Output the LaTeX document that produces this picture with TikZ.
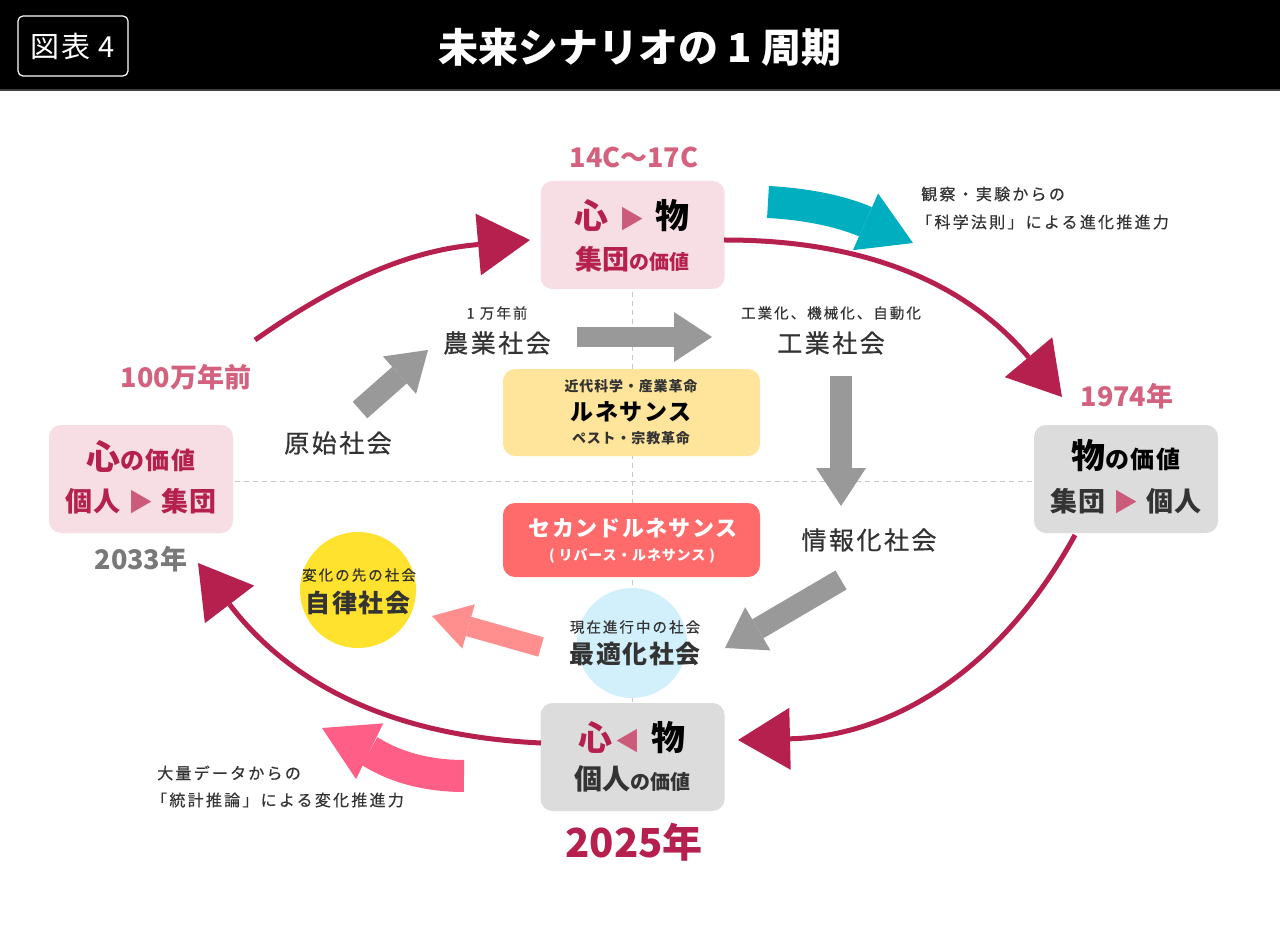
\documentclass[tikz,border=0pt]{standalone}
\usepackage{fontspec}
\setmainfont{Noto Sans CJK JP}
\newfontfamily\jp[LetterSpace=6]{Noto Sans CJK JP}
\newfontfamily\jpm[LetterSpace=10,FakeBold=0.6]{Noto Sans CJK JP}
\newfontfamily\jpw[LetterSpace=14,FakeBold=0.4]{Noto Sans CJK JP}
\usetikzlibrary{arrows.meta}
\newcommand\jsize[1]{\fontsize{#1}{#1}\selectfont}

\definecolor{crim}{HTML}{B5204E}
\definecolor{rose}{HTML}{D4627F}
\definecolor{tri}{HTML}{CC5A7A}
\definecolor{boxpink}{HTML}{F6DEE4}
\definecolor{boxgrey}{HTML}{DCDCDC}
\definecolor{txt}{HTML}{333333}
\definecolor{sciteal}{HTML}{00AFBF}
\definecolor{datapink}{HTML}{FF5E87}
\definecolor{softred}{HTML}{FF8F8F}
\definecolor{greyarr}{HTML}{999999}
\definecolor{renbox}{HTML}{FFE59C}
\definecolor{secbox}{HTML}{FF6B6B}
\definecolor{sun}{HTML}{FFE22E}
\definecolor{sky}{HTML}{D2F0FB}

\begin{document}
\begin{tikzpicture}[x=1pt,y=-1pt,
    every node/.style={inner sep=0pt, text=txt},
    valbox/.style={rounded corners=12pt, minimum width=184pt, minimum height=108pt},
    cyclearc/.style={crim, line width=5pt, -{Triangle[length=52pt,width=62pt,line width=0pt]}},
    flow/.style={greyarr, line width=22pt, -{Triangle[length=38pt,width=50pt,line width=0pt]}},
    soc/.style={font=\jpm\jsize{25}},
    note/.style={font=\jpw\jsize{14.5}},
    side/.style={font=\jpw\jsize{16}, anchor=west},
    year/.style={font=\bfseries\jsize{27}, text=rose},
    axis/.style={gray!45, line width=1pt, dash pattern=on 5pt off 4pt}]

  \useasboundingbox (0,0) rectangle (1280,933);
  \fill[white] (0,0) rectangle (1280,933);

  % title bar
  \fill[black] (0,0) rectangle (1280,90);
  \draw[black!75, line width=2pt] (0,90) -- (1280,90);
  \node[draw=white, line width=1.2pt, rounded corners=5pt, minimum width=110pt,
        minimum height=60pt, text=white, font=\jp\jsize{29}] (tag) at (73,46) {図表 4};
  \node[text=white, font=\bfseries\jsize{40}] (title) at (640,47) {未来シナリオの 1 周期};

  % axes
  \draw[axis] (632,292) -- (632,702);
  \draw[axis] (235,481) -- (1034,481);

  % value boxes
  \node[valbox, fill=boxpink] (top)    at (632.5,235) {};
  \node[valbox, fill=boxpink] (left)   at (141,479)   {};
  \node[valbox, fill=boxgrey] (right)  at (1126,479)  {};
  \node[valbox, fill=boxgrey] (bottom) at (632.5,757) {};

  \node (top1) at (632,216) {{\color{crim}\bfseries\jsize{34}心}\hspace{11pt}{\color{tri}\jsize{25}▶}\hspace{11pt}{\bfseries\jsize{34}\color{black}物}};
  \node (top2) at (632,259) {\color{crim}\bfseries{\jsize{27}集団}{\jsize{20}の価値}};
  \node (left1) at (141,456) {\color{crim}\bfseries{\jsize{34}心}{\jp\jsize{24}の価値}};
  \node (left2) at (141,501) {\color{crim}\bfseries\jp\jsize{27}個人 {\color{tri}\jsize{25}▶} 集団};
  \node (right1) at (1126,456) {\color{black}\bfseries{\jsize{34}物}{\jp\jsize{24}の価値}};
  \node (right2) at (1126,501) {\bfseries\jp\jsize{27}集団 {\color{tri}\jsize{25}▶} 個人};
  \node (bot1) at (632,738) {{\color{crim}\bfseries\jsize{34}心}\hspace{3pt}{\color{tri}\jsize{25}◀}\hspace{11pt}{\bfseries\jsize{34}\color{black}物}};
  \node (bot2) at (632,779) {\bfseries{\jsize{28}個人}{\jsize{20}の価値}};

  % years
  \node[year] (y14)   at (634,157)  {14C〜17C};
  \node[year] (y100)  at (186,377)  {100万年前};
  \node[year] (y1974) at (1127,396) {1974年};
  \node[year, text=gray!95!black] (y2033) at (141,559) {2033年};
  \node[font=\bfseries\jsize{40}, text=crim] (y2025) at (634,842) {2025年};

  % cycle
  \coordinate (a1) at (255,340);
  \coordinate (a2) at (530,240);
  \coordinate (b1) at (724,240);
  \coordinate (b2) at (1062,397);
  \coordinate (c1) at (1075,535);
  \coordinate (c2) at (738,740);
  \coordinate (d1) at (541,743);
  \coordinate (d2) at (198,563);
  \draw[cyclearc] (a1) to[bend left=15] (a2);
  \draw[cyclearc] (b1) to[bend left=25] (b2);
  \draw[cyclearc] (c1) to[bend left=30] (c2);
  \draw[cyclearc] (d1) to[bend left=25] (d2);

  % forces
  \coordinate (t1) at (768,202);
  \coordinate (t2) at (913,243);
  \draw[sciteal, line width=32pt, -{Triangle[length=52pt,width=62pt,line width=0pt]}]
    (t1) to[out=-3,in=156] (t2);
  \node[side] (sci1) at (921,194) {観察・実験からの};
  \node[side] (sci2) at (916,222) {「科学法則」による進化推進力};

  \coordinate (p1) at (464,776);
  \coordinate (p2) at (322,728);
  \draw[datapink, line width=32pt, -{Triangle[length=53pt,width=62pt,line width=0pt]}]
    (p1) to[out=180,in=-26] (p2);
  \node[side] (dat1) at (157,773) {大量データからの};
  \node[side] (dat2) at (151,800) {「統計推論」による変化推進力};

  % renaissances
  \node[fill=renbox, rounded corners=12pt, minimum width=257pt, minimum height=87pt] (ren) at (631.5,412.5) {};
  \node[font=\jp\bfseries\jsize{14}] (ren1) at (631,386) {近代科学・産業革命};
  \node[font=\jp\bfseries\jsize{23}, text=black] (ren2) at (631,412) {ルネサンス};
  \node[font=\jp\bfseries\jsize{14}] (ren3) at (631,438) {ペスト・宗教革命};

  \node[fill=secbox, rounded corners=12pt, minimum width=257pt, minimum height=74pt] (sec) at (631.5,540) {};
  \node[font=\jp\bfseries\jsize{22}, text=white] (sec1) at (633,528) {セカンドルネサンス};
  \node[font=\jp\bfseries\jsize{14}, text=white] (sec2) at (632,556) {( リバース・ルネサンス )};

  % societies
  \node[circle, fill=sun, minimum size=116pt] (auto) at (358,590) {};
  \node[circle, fill=sky, minimum size=110pt] (opt) at (632,643) {};

  \node[note] (agri0) at (497,313) {1 万年前};
  \node[soc] (agri) at (497,343) {農業社会};
  \node[note] (ind0) at (831,313) {工業化、機械化、自動化};
  \node[soc] (ind) at (831,343) {工業社会};
  \node[soc] (prim) at (338,443) {原始社会};
  \node[soc] (info) at (869,540) {情報化社会};
  \node[note] (auto0) at (359,575) {変化の先の社会};
  \node[soc, font=\jp\bfseries\jsize{25}] (auto1) at (358,603) {自律社会};
  \node[note] (opt0) at (635,627) {現在進行中の社会};
  \node[soc, font=\jp\bfseries\jsize{25}] (opt1) at (635,654) {最適化社会};

  % transitions
  \coordinate (g1) at (360,410);
  \coordinate (g2) at (428,350);
  \coordinate (g3) at (577,337);
  \coordinate (g4) at (712,337);
  \draw[flow] (g1) -- (g2);
  \draw[flow, line width=20pt] (g3) -- (g4);
  \draw[flow] (841,376) -- (841,506);
  \draw[flow] (841,580) -- (725,648);
  \draw[softred, line width=20pt, -{Triangle[length=38pt,width=46pt,line width=0pt]}] (541,647) -- (432,616);
\end{tikzpicture}
\end{document}
